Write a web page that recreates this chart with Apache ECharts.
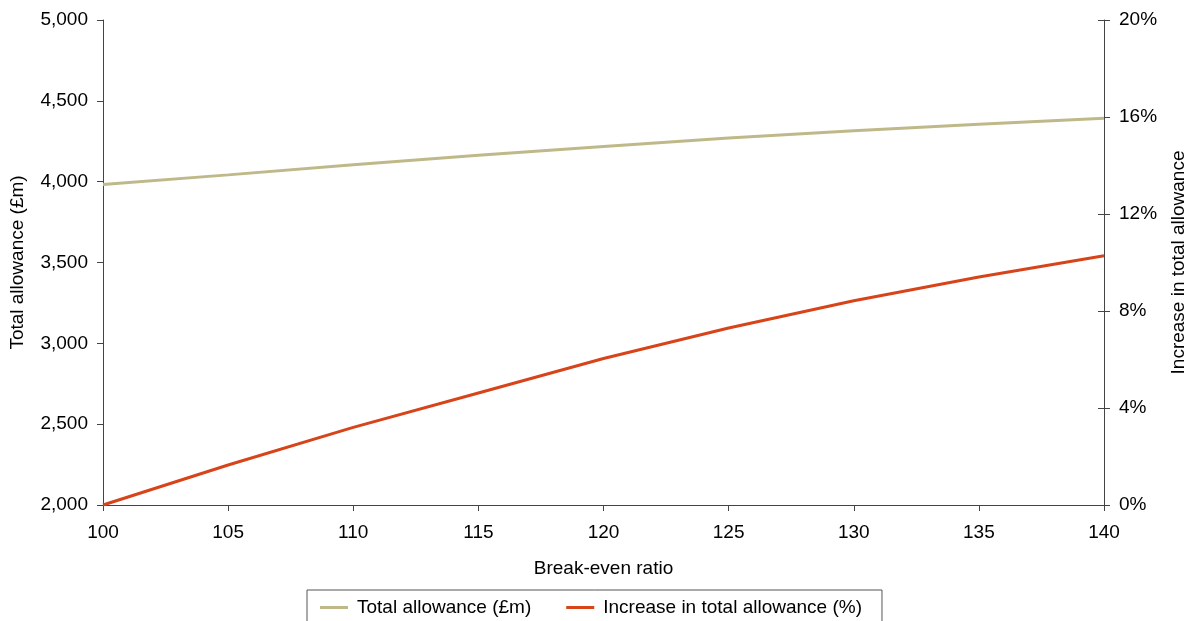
<!DOCTYPE html>
<html>
<head>
<meta charset="utf-8">
<script src="https://cdn.jsdelivr.net/npm/echarts@6/dist/echarts.min.js"></script>
<style>
html,body{margin:0;padding:0;background:#fff;}
#chart{width:1199px;height:621px;}
</style>
</head>
<body>
<div id="chart"></div>
<script>
const ratios = [100, 105, 110, 115, 120, 125, 130, 135, 140];
const totalAllowance = [3982, 4042, 4104, 4163, 4218, 4270, 4315, 4355, 4392];
const increasePct = [0, 1.65, 3.2, 4.62, 6.04, 7.3, 8.42, 9.4, 10.28];

const FONT = 'Liberation Sans, Arial, sans-serif';
const AX = '#444';
const chart = echarts.init(document.getElementById('chart'));
chart.setOption({
  animation: false,
  textStyle: {fontFamily: FONT},
  grid: {left: 100, right: 95, top: 20, bottom: 116, containLabel: false},
  legend: {
    left: 307, top: 590,
    padding: [8, 20, 12, 13],
    borderColor: '#555', borderWidth: 1,
    itemWidth: 28, itemHeight: 3, itemGap: 35,
    icon: 'rect',
    textStyle: {fontSize: 19, color: '#000', fontFamily: FONT, padding: [0,0,0,4]},
    data: ['Total allowance (£m)', 'Increase in total allowance (%)']
  },
  xAxis: {
    type: 'value', min: 100, max: 140, interval: 5,
    name: 'Break-even ratio', nameLocation: 'middle', nameGap: 54,
    nameTextStyle: {fontSize: 19, color: '#000'},
    axisLine: {lineStyle: {color: AX, width: 1}},
    axisTick: {show: true, length: 6, lineStyle: {color: AX}},
    axisLabel: {fontSize: 19, color: '#000', margin: 18},
    splitLine: {show: false}
  },
  yAxis: [
    {
      type: 'value', min: 2000, max: 5000, interval: 500, position: 'left',
      name: 'Total allowance (£m)', nameLocation: 'middle', nameGap: 76, nameRotate: 90,
      nameTextStyle: {fontSize: 19, color: '#000'},
      axisLine: {show: true, lineStyle: {color: AX, width: 1}},
      axisTick: {show: true, length: 6, lineStyle: {color: AX}},
      axisLabel: {fontSize: 19, color: '#000', margin: 15,
        formatter: v => v.toLocaleString('en-GB')},
      splitLine: {show: false}
    },
    {
      type: 'value', min: 0, max: 20, interval: 4, position: 'right',
      name: 'Increase in total allowance', nameLocation: 'middle', nameGap: 65, nameRotate: 90,
      nameTextStyle: {fontSize: 19, color: '#000', verticalAlign: 'top'},
      axisLine: {show: true, lineStyle: {color: AX, width: 1}},
      axisTick: {show: true, length: 6, lineStyle: {color: AX}},
      axisLabel: {fontSize: 19, color: '#000', margin: 15, formatter: v => v + '%'},
      splitLine: {show: false}
    },
    {
      type: 'value', min: 0, max: 20, interval: 4, position: 'right',
      axisLine: {show: false},
      axisTick: {show: true, inside: true, length: 6, lineStyle: {color: AX}},
      axisLabel: {show: false},
      splitLine: {show: false}
    }
  ],
  series: [
    {
      name: 'Total allowance (£m)', type: 'line', yAxisIndex: 0,
      data: ratios.map((r, i) => [r, totalAllowance[i]]),
      symbol: 'none', lineStyle: {color: '#BFB98A', width: 3}, itemStyle: {color: '#BFB98A'}
    },
    {
      name: 'Increase in total allowance (%)', type: 'line', yAxisIndex: 1,
      data: ratios.map((r, i) => [r, increasePct[i]]),
      symbol: 'none', lineStyle: {color: '#D8441A', width: 3}, itemStyle: {color: '#D8441A'}
    }
  ]
});
</script>
</body>
</html>
